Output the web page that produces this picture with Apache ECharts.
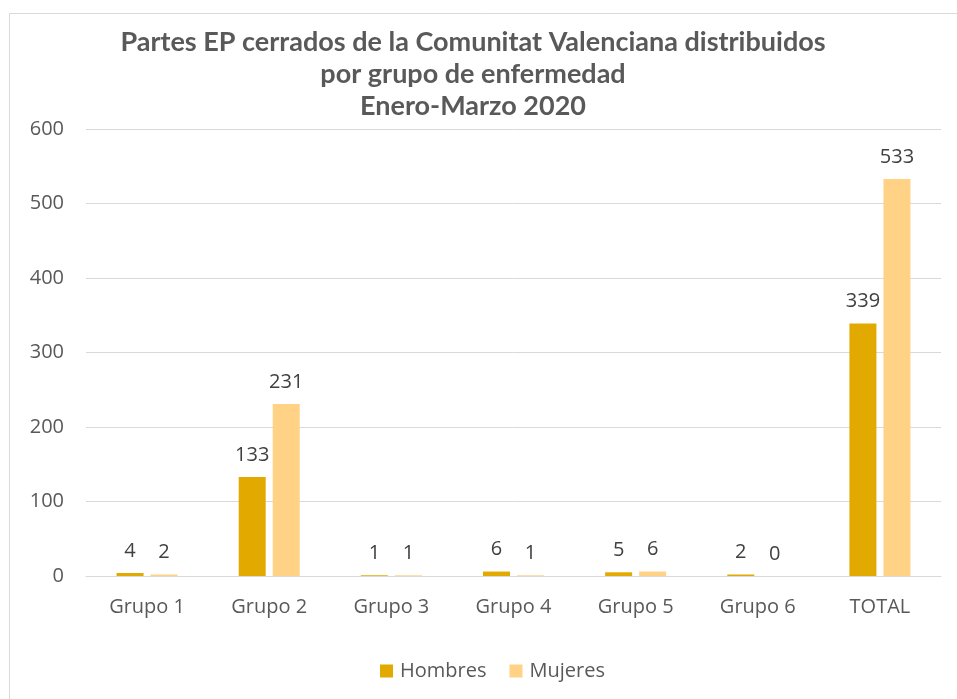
<!DOCTYPE html>
<html><head><meta charset="utf-8">
<script src="https://cdn.jsdelivr.net/npm/echarts@6/dist/echarts.min.js"></script>
<style>html,body{margin:0;padding:0;background:#fff}#c{width:957px;height:699px}</style>
</head><body><div id="c"></div>
<script>
const categories = ['Grupo 1','Grupo 2','Grupo 3','Grupo 4','Grupo 5','Grupo 6','TOTAL'];
const hombres = [4,133,1,6,5,2,339];
const mujeres = [2,231,1,1,6,0,533];
const yTicks = [0,100,200,300,400,500,600];
const titleText = 'Partes EP cerrados de la Comunitat Valenciana distribuidos\npor grupo de enfermedad\nEnero-Marzo 2020';

const chart = echarts.init(document.getElementById('c'), null, {renderer:'canvas'});
const lbl = {show:true, position:'top', distance:12, color:'#404040', fontSize:20, fontFamily:'Open Sans'};
chart.setOption({
  animation:false,
  graphic:[{type:'rect', shape:{x:9.5,y:13.5,width:1000,height:1000}, style:{fill:'none', stroke:'#d9d9d9', lineWidth:1}}],
  title:{text:titleText, left:468, top:21, textAlign:'center',
    textStyle:{fontFamily:'Lato', fontWeight:'bold', fontSize:27, color:'#595959', lineHeight:32}},
  legend:{bottom:13, left:375, itemWidth:13, itemHeight:13, itemGap:23, icon:'rect',
    textStyle:{fontFamily:'Open Sans', fontSize:20, color:'#595959', padding:[0,0,0,2]},
    data:['Hombres','Mujeres']},
  grid:{left:86, right:16, top:129, bottom:123, containLabel:false},
  xAxis:{type:'category', data:categories,
    axisLine:{lineStyle:{color:'#d9d9d9', width:1}}, axisTick:{show:false},
    axisLabel:{fontFamily:'Open Sans', fontSize:20, color:'#595959', margin:21}},
  yAxis:{type:'value', min:yTicks[0], max:yTicks[yTicks.length-1], interval:100,
    axisLine:{show:false}, axisTick:{show:false},
    splitLine:{lineStyle:{color:'#d9d9d9', width:1}},
    axisLabel:{fontFamily:'Open Sans', fontSize:20, color:'#595959', margin:22}},
  series:[
    {name:'Hombres', type:'bar', data:hombres, barWidth:27, barGap:'26%', barCategoryGap:'50%',
      itemStyle:{color:'#E2A900'}, label:lbl},
    {name:'Mujeres', type:'bar', data:mujeres, barWidth:27,
      itemStyle:{color:'#FFD285'}, label:lbl}
  ]
});
</script></body></html>
